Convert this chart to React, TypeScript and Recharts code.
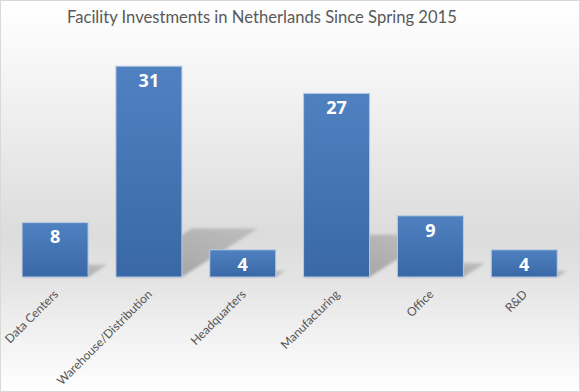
import { BarChart, Bar, XAxis, YAxis, LabelList } from "recharts";

const categories = [
  "Data Centers",
  "Warehouse/Distribution",
  "Headquarters",
  "Manufacturing",
  "Office",
  "R&D",
];

const investments = [8, 31, 4, 27, 9, 4];

const chartData = categories.map((name, i) => ({
  name,
  value: investments[i],
}));

// bar with a perspective shadow cast up and to the right
const ShadowBar = (props: any) => {
  const { x, y, width, height } = props;
  if (!height || height <= 0) return null;
  const bottom = y + height;
  const dx = height * 0.36;
  const dy = height * 0.23;
  const shadow = [
    [x, bottom],
    [x + width, bottom],
    [x + width + dx, bottom - dy],
    [x + dx, bottom - dy],
  ]
    .map((p) => p.join(","))
    .join(" ");
  return (
    <g>
      <polygon
        points={shadow}
        fill="url(#shadowFade)"
        filter="url(#shadowBlur)"
      />
      <rect
        x={x}
        y={y}
        width={width}
        height={height}
        fill="url(#barFill)"
        stroke="#b9cbe4"
        strokeWidth={1}
      />
    </g>
  );
};

const AngledTick = (props: any) => {
  const { x, y, payload } = props;
  return (
    <g transform={`translate(${x + 4},${y + 10})`}>
      <text
        textAnchor="end"
        transform="rotate(-45)"
        fontSize={12}
        fill="#555555"
        fontFamily="Lato, sans-serif"
      >
        {payload.value}
      </text>
    </g>
  );
};

export default function App() {
  return (
    <div
      style={{
        position: "absolute",
        left: 0,
        top: 0,
        width: 580,
        height: 392,
        boxSizing: "border-box",
        border: "1px solid #d9d9d9",
        background:
          "linear-gradient(to bottom, #ffffff 0%, #f4f4f4 20%, #dcdcdc 60%, #e4e4e4 72%, #ffffff 100%)",
      }}
    >
      <div
        style={{
          position: "absolute",
          top: 6,
          left: 66,
          whiteSpace: "nowrap",
          fontSize: 16.6,
          color: "#595959",
          fontFamily: "Lato, sans-serif",
        }}
      >
        Facility Investments in Netherlands Since Spring 2015
      </div>
      <div style={{ position: "absolute", left: -1, top: -1 }}>
        <BarChart
          width={580}
          height={392}
          data={chartData}
          margin={{ top: 39, right: 9, bottom: 0, left: 8 }}
          barCategoryGap="15%"
        >
          <defs>
            <linearGradient id="barFill" x1="0" y1="0" x2="0" y2="1">
              <stop offset="0%" stopColor="#4f81c0" />
              <stop offset="100%" stopColor="#3a68a6" />
            </linearGradient>
            <linearGradient id="shadowFade" x1="0" y1="1" x2="1" y2="0">
              <stop offset="0%" stopColor="#999999" stopOpacity={0.95} />
              <stop offset="100%" stopColor="#adadad" stopOpacity={0.65} />
            </linearGradient>
            <filter id="shadowBlur" x="-20%" y="-20%" width="140%" height="140%">
              <feGaussianBlur stdDeviation="1.5" />
            </filter>
          </defs>
          <XAxis
            dataKey="name"
            axisLine={false}
            tickLine={false}
            interval={0}
            height={115}
            tick={<AngledTick />}
          />
          <YAxis hide domain={[0, 35]} />
          <Bar dataKey="value" shape={<ShadowBar />} isAnimationActive={false}>
            <LabelList
              dataKey="value"
              position="insideTop"
              offset={8}
              fill="#ffffff"
              fontSize={18}
              fontWeight="bold"
              fontFamily="'Open Sans', sans-serif"
            />
          </Bar>
        </BarChart>
      </div>
    </div>
  );
}
